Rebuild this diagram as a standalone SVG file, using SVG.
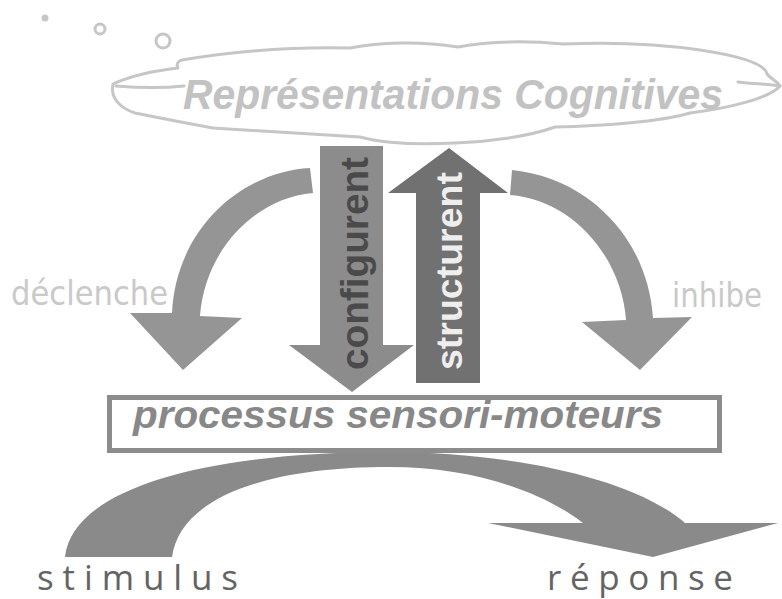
<svg xmlns="http://www.w3.org/2000/svg" width="782" height="599" viewBox="0 0 782 599">
<style>
.cloud{fill:#fff;stroke:#c6c6c6;stroke-width:3;stroke-linejoin:round}
.cl{fill:none;stroke:#c6c6c6;stroke-width:3;stroke-linecap:round}
.ctext{font-family:"Liberation Sans",Arial,sans-serif;font-weight:bold;font-style:italic;fill:#c2c2c2}
.vtext{font-family:"Liberation Sans",Arial,sans-serif;font-weight:bold}
.side{font-family:"DejaVu Sans","Liberation Sans",sans-serif;fill:#c9c9c9}
.bot{font-family:"Open Sans","Liberation Sans",sans-serif;fill:#646464}
.curve{fill:#959595}
</style>
<rect width="782" height="599" fill="#fff"/>
<g id="bubbles" fill="none" stroke="#c6c6c6" stroke-width="3">
  <circle cx="45" cy="18" r="2" fill="#c6c6c6"/>
  <circle cx="100" cy="29" r="5"/>
  <circle cx="163" cy="41" r="7"/>
</g>
<g id="cloud">
  <path class="cloud" d="M113,84 C135,74 160,70 178,68 C176,64 178,61 182,60 C240,50 300,47 350,48 C380,42 420,41 458,47 C490,41 530,41 563,44 C610,42 660,44 700,50 C740,56 765,64 767,74 C770,78 778,82 780,86 C770,98 730,108 690,113 C660,122 600,126 555,127 C530,136 490,142 455,143 C400,146 370,140 360,137 C300,133 250,130 213,128 C180,122 150,116 135,113 C120,108 110,98 113,84 Z"/>
  <path class="cl" d="M116,86 C140,88 165,88 184,86"/>
  <path class="cl" d="M738,82 C755,84 768,84 780,86"/>
  <text class="ctext" x="183" y="109" font-size="43" textLength="540" lengthAdjust="spacingAndGlyphs">Représentations  Cognitives</text>
</g>
<g id="connectors">
  <g id="configurent">
    <polygon points="320,146 383,146 383,345 414,345 352,392 289,345 320,345" fill="#8c8c8c"/>
    <text class="vtext" transform="translate(368,370) rotate(-90)" font-size="38" fill="#4a4a4a" textLength="213" lengthAdjust="spacingAndGlyphs">configurent</text>
  </g>
  <g id="structurent">
    <polygon points="416,383 480,383 480,193 508,193 449,148 388,193 416,193" fill="#717171"/>
    <text class="vtext" transform="translate(462,370) rotate(-90)" font-size="37" fill="#eeeeee" textLength="198" lengthAdjust="spacingAndGlyphs">structurent</text>
  </g>
  <g id="declenche">
    <path class="curve" d="M310,168 L313,193 C255,198 205,250 200,316 L242,318 L183,370 L130,313 L172,313 C176,230 240,172 310,168 Z"/>
    <text class="side" x="11" y="305" font-size="33" textLength="157" lengthAdjust="spacingAndGlyphs">déclenche</text>
  </g>
  <g id="inhibe">
    <path class="curve" d="M512,170 C590,178 648,240 653,318 L692,317 L640,370 L582,322 L626,320 C622,260 575,200 510,195 Z"/>
    <text class="side" x="672" y="307" font-size="33" textLength="90" lengthAdjust="spacingAndGlyphs">inhibe</text>
  </g>
  <g id="stimulus-reponse">
    <path fill="#8a8a8a" d="M65,557 C72,490 200,452 390,452 C500,452 630,475 685,523 L778,523 L653,557 L488,523 L583,523 C540,490 470,467 390,467 C260,467 180,500 172,557 Z"/>
  </g>
</g>
<g id="processus">
  <rect x="109.5" y="397.5" width="610" height="53" fill="#fff" stroke="#8c8c8c" stroke-width="5"/>
  <text x="133" y="428" font-family="'Liberation Sans',Arial,sans-serif" font-weight="bold" font-style="italic" font-size="38" fill="#888" textLength="530" lengthAdjust="spacingAndGlyphs">processus sensori-moteurs</text>
</g>
<g id="stimulus">
  <text class="bot" x="37" y="590" font-size="35" textLength="201" lengthAdjust="spacing">stimulus</text>
</g>
<g id="reponse">
  <text class="bot" x="547" y="590" font-size="35" textLength="186" lengthAdjust="spacing">réponse</text>
</g>
</svg>
